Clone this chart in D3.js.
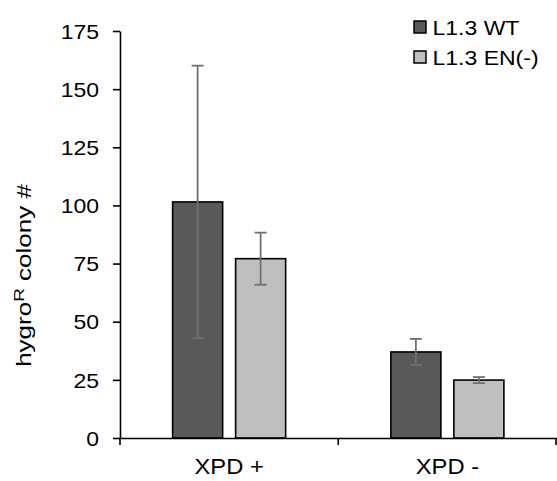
<!DOCTYPE html>
<html>
<head>
<meta charset="utf-8">
<script src="https://cdn.jsdelivr.net/npm/d3@7"></script>
<style>
  body { margin: 0; background: #fff; }
  text { font-family: "Liberation Sans", Arial, sans-serif; fill: #000; }
</style>
</head>
<body>
<div id="chart"></div>
<script>
const categories = ['XPD +', 'XPD -'];
const series = ['L1.3 WT', 'L1.3 EN(-)'];
const means = [[101.5, 77.1], [37.0, 24.9]];
const errors = [[58.6, 11.2], [5.6, 1.3]];
const yTicks = [0, 25, 50, 75, 100, 125, 150, 175];
const yLabel = 'hygro';
const yLabelSup = 'R';
const yLabelRest = ' colony #';

const w = 557;
const h = 481;
const margin = { top: 31, right: 0.5, bottom: 43, left: 120 };
const colors = ['#595959', '#bfbfbf'];
const stretch = 1.15;

const svg = d3.select('#chart')
  .append('svg')
  .attr('width', w)
  .attr('height', h);

const x0 = d3.scaleBand()
  .domain(categories)
  .range([margin.left, w - margin.right]);

const x1 = d3.scaleBand()
  .domain(series)
  .range([0, x0.bandwidth()])
  .paddingInner(0.206)
  .paddingOuter(0.835);

const y = d3.scaleLinear()
  .domain([0, 175])
  .range([h - margin.bottom, margin.top]);

const rows = [];
categories.forEach((c, i) => {
  series.forEach((s, j) => {
    rows.push({ cat: c, ser: s, j: j, val: means[i][j], err: errors[i][j] });
  });
});

// bars
svg.selectAll('rect.bar')
  .data(rows)
  .enter()
  .append('rect')
  .attr('class', 'bar')
  .attr('x', (d) => x0(d.cat) + x1(d.ser))
  .attr('y', (d) => y(d.val))
  .attr('width', x1.bandwidth())
  .attr('height', (d) => y(0) - y(d.val))
  .style('fill', (d) => colors[d.j])
  .style('stroke', '#000')
  .style('stroke-width', 1.6);

// error bars
const cap = 6;
const eb = svg.selectAll('g.err')
  .data(rows)
  .enter()
  .append('g')
  .attr('class', 'err')
  .style('stroke', '#707070')
  .style('stroke-width', 1.8);

eb.append('line')
  .attr('x1', (d) => x0(d.cat) + x1(d.ser) + x1.bandwidth() / 2)
  .attr('x2', (d) => x0(d.cat) + x1(d.ser) + x1.bandwidth() / 2)
  .attr('y1', (d) => y(d.val + d.err))
  .attr('y2', (d) => y(d.val - d.err));

eb.selectAll('line.cap')
  .data((d) => [d.val + d.err, d.val - d.err].map((v) => ({ d: d, v: v })))
  .enter()
  .append('line')
  .attr('class', 'cap')
  .attr('x1', (p) => x0(p.d.cat) + x1(p.d.ser) + x1.bandwidth() / 2 - cap)
  .attr('x2', (p) => x0(p.d.cat) + x1(p.d.ser) + x1.bandwidth() / 2 + cap)
  .attr('y1', (p) => y(p.v))
  .attr('y2', (p) => y(p.v));

// y axis
const yAxis = d3.axisLeft(y)
  .tickValues(yTicks)
  .tickSize(7)
  .tickSizeOuter(0);

const gy = svg.append('g')
  .attr('id', 'y-axis')
  .attr('transform', 'translate(' + margin.left + ',0)')
  .call(yAxis);

gy.select('.domain').style('stroke-width', 1.6);
gy.selectAll('.tick line').style('stroke-width', 1.6);
gy.selectAll('.tick text')
  .attr('x', 0)
  .attr('dy', '0.36em')
  .attr('transform', `translate(-21,0) scale(${stretch},1)`)
  .style('font-size', '20px')
  .style('font-family', '"Liberation Sans", Arial, sans-serif')
  .style('fill', '#000');

// x axis
const xAxis = d3.axisBottom(x0)
  .tickSize(0)
  .tickSizeOuter(0);

const gx = svg.append('g')
  .attr('id', 'x-axis')
  .attr('transform', 'translate(0,' + y(0) + ')')
  .call(xAxis);

gx.select('.domain').style('stroke-width', 1.6);
gx.selectAll('.tick text')
  .attr('y', 0)
  .attr('dy', 0)
  .attr('transform', 'translate(0,36) scale(1.08,1)')
  .style('font-size', '22px')
  .style('font-family', '"Liberation Sans", Arial, sans-serif')
  .style('fill', '#000');

const bounds = categories.map((c) => x0(c)).concat([x0.range()[1]]);
gx.selectAll('line.bound')
  .data(bounds)
  .enter()
  .append('line')
  .attr('class', 'bound')
  .attr('x1', (d) => Math.min(d, w - 1))
  .attr('x2', (d) => Math.min(d, w - 1))
  .attr('y1', 0)
  .attr('y2', 7)
  .style('stroke', '#000')
  .style('stroke-width', 1.6);

// y label
const yl = svg.append('text')
  .attr('transform', `translate(31,${(y(0) + y(175)) / 2 + 41}) rotate(-90) scale(1,0.78)`)
  .attr('text-anchor', 'middle')
  .style('font-size', '26px');
yl.append('tspan').text(yLabel);
yl.append('tspan').attr('dy', '-0.45em').style('font-size', '19px').text(yLabelSup);
yl.append('tspan').attr('dy', '0.35em').text(yLabelRest);

// legend
const legend = svg.append('g').attr('id', 'legend');
legend.selectAll('rect')
  .data(series)
  .enter()
  .append('rect')
  .attr('x', 414)
  .attr('y', (d, i) => 21 + i * 30)
  .attr('width', 12)
  .attr('height', 12)
  .style('fill', (d, i) => colors[i])
  .style('stroke', '#000')
  .style('stroke-width', 1.5);

legend.selectAll('text')
  .data(series)
  .enter()
  .append('text')
  .attr('transform', (d, i) => `translate(432.5,${35 + i * 30}) scale(${stretch},1)`)
  .style('font-size', '20px')
  .text((d) => d);
</script>
</body>
</html>
